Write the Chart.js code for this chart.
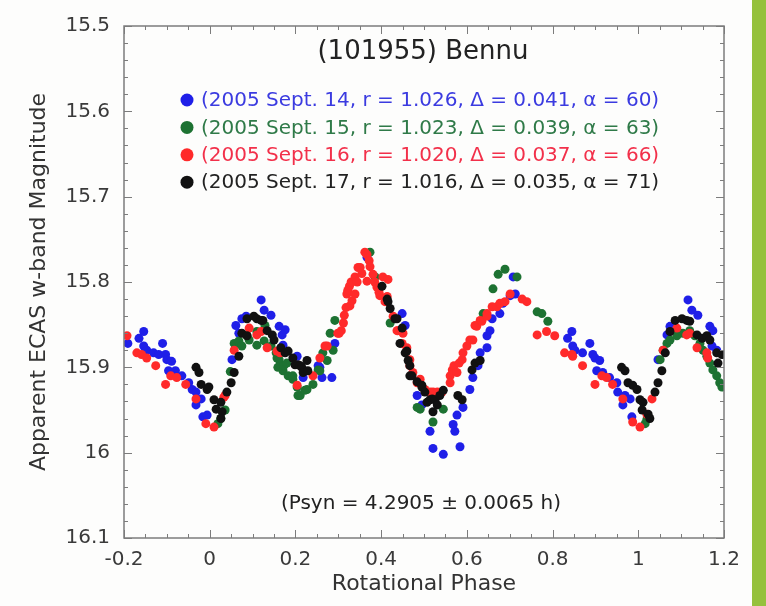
<!DOCTYPE html>
<html>
<head>
<meta charset="utf-8">
<script src="https://cdn.jsdelivr.net/npm/chart.js@4.4.0/dist/chart.umd.min.js"></script>
<style>
html, body { margin: 0; padding: 0; background: #fff; }
#wrap { position: relative; width: 766px; height: 606px; overflow: hidden; background: #fdfdfc; }
#lc { position: absolute; left: 0; top: 0; }
#bar { position: absolute; left: 752px; top: 0; width: 14px; height: 606px; background: #95c13c; }
</style>
</head>
<body>
<div id="wrap">
  <canvas id="lc" width="766" height="606"></canvas>
  <div id="bar"></div>
</div>
<script>
// lightcurve points, [rotational phase, magnitude]
var sept14 = [
  [-0.191,15.872],[-0.165,15.866],[-0.154,15.858],[-0.154,15.875],[-0.147,15.880],[-0.131,15.883],[-0.110,15.872],
  [-0.119,15.885],[-0.103,15.885],[-0.100,15.891],[-0.089,15.893],[-0.096,15.904],[-0.080,15.904],[-0.065,15.910],
  [-0.049,15.918],[-0.041,15.926],[-0.032,15.929],[-0.020,15.937],[-0.032,15.944],[-0.016,15.958],[-0.006,15.956],
  [0.052,15.891],[0.068,15.860],[0.061,15.851],[0.075,15.843],[0.085,15.840],[0.120,15.821],[0.127,15.833],
  [0.143,15.839],[0.162,15.852],[0.176,15.856],[0.169,15.862],[0.171,15.874],[0.204,15.887],[0.218,15.912],
  [0.253,15.898],[0.257,15.900],[0.262,15.912],[0.285,15.912],[0.292,15.872],
  [0.367,15.771],[0.449,15.837],[0.456,15.851],[0.484,15.933],[0.495,15.944],[0.514,15.975],[0.521,15.995],
  [0.545,16.002],[0.584,15.993],[0.572,15.975],[0.568,15.967],[0.577,15.956],[0.591,15.947],[0.607,15.926],
  [0.614,15.912],[0.626,15.898],[0.631,15.883],[0.647,15.877],[0.647,15.863],[0.654,15.857],[0.659,15.843],
  [0.677,15.837],[0.684,15.825],[0.701,15.816],[0.713,15.814],[0.708,15.794],
  [0.845,15.858],[0.835,15.866],[0.847,15.875],[0.852,15.880],[0.870,15.883],[0.887,15.872],[0.894,15.885],
  [0.899,15.889],[0.910,15.892],[0.903,15.904],[0.917,15.906],[0.933,15.912],[0.950,15.918],[0.952,15.929],
  [0.969,15.933],[0.981,15.937],[0.964,15.944],[0.985,15.958],
  [1.046,15.891],[1.067,15.862],[1.074,15.852],[1.116,15.821],[1.125,15.833],[1.139,15.839],[1.167,15.852],
  [1.174,15.857],[1.172,15.875],[1.183,15.880]
];
var sept15 = [
  [0.019,15.966],[0.026,15.960],[0.036,15.950],[0.048,15.905],[0.057,15.872],[0.064,15.872],[0.068,15.869],
  [0.075,15.875],[0.087,15.863],[0.092,15.868],[0.110,15.858],[0.110,15.874],[0.127,15.869],[0.129,15.851],
  [0.143,15.875],[0.155,15.883],[0.157,15.889],[0.162,15.891],[0.164,15.883],[0.159,15.900],[0.171,15.904],
  [0.173,15.898],[0.180,15.895],[0.183,15.910],[0.194,15.914],[0.194,15.910],[0.204,15.923],[0.206,15.933],
  [0.211,15.933],[0.222,15.927],[0.227,15.926],[0.241,15.920],[0.253,15.903],[0.257,15.904],[0.264,15.883],
  [0.274,15.892],[0.281,15.860],[0.288,15.880],[0.292,15.845],
  [0.374,15.765],[0.386,15.794],[0.421,15.848],[0.484,15.947],[0.491,15.949],[0.521,15.964],[0.545,15.949],
  [0.638,15.837],[0.661,15.808],[0.673,15.791],[0.689,15.785],[0.717,15.794],[0.764,15.835],[0.775,15.837],
  [0.789,15.846],
  [1.016,15.966],[1.020,15.961],[1.051,15.891],[1.058,15.880],[1.067,15.872],[1.074,15.868],[1.090,15.863],
  [1.104,15.860],[1.120,15.857],[1.132,15.863],[1.144,15.872],[1.151,15.880],[1.160,15.887],[1.167,15.895],
  [1.174,15.903],[1.183,15.910],[1.190,15.918],[1.195,15.923]
];
var sept16 = [
  [-0.193,15.863],[-0.170,15.883],[-0.159,15.885],[-0.147,15.889],[-0.126,15.898],[-0.103,15.920],[-0.091,15.910],
  [-0.077,15.912],[-0.056,15.920],[-0.032,15.937],[-0.009,15.966],[0.010,15.970],[0.033,15.935],[0.036,15.933],
  [0.057,15.880],[0.092,15.854],[0.110,15.862],[0.120,15.858],[0.134,15.877],[0.157,15.881],[0.164,15.883],
  [0.204,15.921],[0.241,15.910],[0.257,15.889],[0.269,15.875],[0.274,15.875],[0.299,15.860],[0.302,15.860],
  [0.307,15.857],[0.312,15.848],[0.314,15.839],[0.318,15.830],[0.320,15.814],[0.327,15.828],[0.332,15.822],
  [0.322,15.810],[0.326,15.805],[0.330,15.800],[0.339,15.794],[0.339,15.814],[0.346,15.783],[0.351,15.783],
  [0.355,15.790],[0.362,15.765],[0.367,15.768],[0.372,15.775],[0.374,15.782],[0.381,15.791],[0.367,15.799],
  [0.344,15.800],[0.385,15.800],[0.390,15.806],[0.395,15.812],[0.404,15.794],[0.416,15.797],[0.397,15.816],
  [0.409,15.823],[0.414,15.817],[0.428,15.840],[0.437,15.857],[0.439,15.857],[0.451,15.860],[0.449,15.872],
  [0.460,15.877],[0.467,15.891],[0.467,15.898],[0.474,15.906],[0.484,15.918],[0.491,15.914],[0.502,15.926],
  [0.514,15.929],[0.519,15.933],[0.521,15.929],[0.531,15.929],[0.542,15.929],[0.561,15.910],[0.561,15.918],
  [0.566,15.903],[0.570,15.898],[0.577,15.906],[0.582,15.895],[0.589,15.891],[0.591,15.883],[0.600,15.875],
  [0.607,15.868],[0.614,15.868],[0.619,15.851],[0.623,15.852],[0.631,15.845],[0.635,15.846],[0.647,15.837],
  [0.647,15.840],[0.659,15.829],[0.670,15.829],[0.677,15.825],[0.689,15.823],[0.701,15.814],[0.729,15.820],
  [0.740,15.823],[0.764,15.862],[0.786,15.858],[0.805,15.863],[0.828,15.883],[0.845,15.885],[0.847,15.887],
  [0.870,15.898],[0.899,15.920],[0.915,15.910],[0.926,15.912],[0.940,15.920],[0.964,15.937],[0.987,15.964],
  [1.004,15.970],[1.020,15.955],[1.032,15.937],[1.058,15.880],[1.090,15.854],[1.113,15.862],[1.120,15.860],
  [1.137,15.877],[1.160,15.883],[1.162,15.889]
];
var sept17 = [
  [-0.032,15.900],[-0.025,15.906],[-0.020,15.920],[-0.006,15.926],[-0.002,15.923],[0.010,15.938],[0.026,15.941],
  [0.015,15.949],[0.029,15.952],[0.026,15.960],[0.040,15.929],[0.050,15.918],[0.057,15.906],[0.068,15.887],
  [0.075,15.860],[0.087,15.843],[0.087,15.863],[0.103,15.840],[0.110,15.843],[0.120,15.845],[0.124,15.845],
  [0.134,15.857],[0.146,15.862],[0.150,15.868],[0.166,15.877],[0.176,15.883],[0.183,15.881],[0.194,15.889],
  [0.199,15.897],[0.206,15.897],[0.211,15.898],[0.215,15.900],[0.218,15.906],[0.227,15.892],[0.229,15.904],
  [0.402,15.805],[0.414,15.820],[0.416,15.823],[0.421,15.831],[0.432,15.843],[0.437,15.843],[0.449,15.854],
  [0.444,15.872],[0.456,15.883],[0.460,15.881],[0.463,15.892],[0.467,15.898],[0.467,15.910],[0.472,15.910],
  [0.484,15.917],[0.495,15.921],[0.495,15.923],[0.502,15.929],[0.507,15.941],[0.514,15.938],[0.519,15.937],
  [0.526,15.938],[0.531,15.944],[0.537,15.933],[0.545,15.927],[0.521,15.952],[0.579,15.933],[0.589,15.938],
  [0.612,15.903],[0.619,15.895],[0.631,15.892],
  [0.961,15.900],[0.969,15.904],[0.976,15.918],[0.987,15.921],[0.997,15.926],[1.004,15.938],[1.011,15.941],
  [1.009,15.950],[1.023,15.955],[1.027,15.960],[1.039,15.929],[1.046,15.918],[1.055,15.904],[1.063,15.883],
  [1.074,15.858],[1.086,15.845],[1.102,15.843],[1.113,15.845],[1.120,15.846],[1.137,15.862],[1.149,15.866],
  [1.160,15.863],[1.167,15.868],[1.183,15.883],[1.195,15.885],[1.186,15.895]
];

var seriesLabels = [
  '(2005 Sept. 14, r = 1.026, \u0394 = 0.041, \u03b1 = 60)',
  '(2005 Sept. 15, r = 1.023, \u0394 = 0.039, \u03b1 = 63)',
  '(2005 Sept. 16, r = 1.020, \u0394 = 0.037, \u03b1 = 66)',
  '(2005 Sept. 17, r = 1.016, \u0394 = 0.035, \u03b1 = 71)'
];
var seriesData = [sept14, sept15, sept16, sept17];
var dotColors = ['#1f1fe8', '#1d7232', '#ff2a2a', '#111111'];
var textColors = ['#3b3be0', '#2f7a48', '#f2304a', '#222222'];

var chartTitle = '(101955) Bennu';
var periodNote = '(Psyn = 4.2905 \u00b1 0.0065 h)';
var xTitle = 'Rotational Phase';
var yTitle = 'Apparent ECAS w-band Magnitude';

Chart.defaults.font.family = "'DejaVu Sans', sans-serif";

function fmtTick(v) {
    return parseFloat(Number(v).toFixed(1)).toString();
}

// frame, inward ticks, title, legend and the period note
var frameAndText = {
    id: 'frameAndText',
    afterDraw: function(chart) {
        var ctx = chart.ctx;
        var a = chart.chartArea;
        var xs = chart.scales.x, ys = chart.scales.y;
        ctx.save();
        ctx.strokeStyle = '#7c7c7c';
        ctx.lineWidth = 1;
        ctx.beginPath();
        for (var i = 0; i <= 28; i++) {
            var px = Math.round(xs.getPixelForValue(-0.2 + i * 0.05)) + 0.5;
            var len = (i % 4 == 0) ? 8 : 4;
            ctx.moveTo(px, a.bottom); ctx.lineTo(px, a.bottom - len);
            ctx.moveTo(px, a.top); ctx.lineTo(px, a.top + len);
        }
        for (var j = 0; j <= 30; j++) {
            var py = Math.round(ys.getPixelForValue(15.5 + j * 0.02)) + 0.5;
            var l2 = (j % 5 == 0) ? 8 : 4;
            ctx.moveTo(a.left, py); ctx.lineTo(a.left + l2, py);
            ctx.moveTo(a.right, py); ctx.lineTo(a.right - l2, py);
        }
        ctx.stroke();
        ctx.lineWidth = 1.5;
        ctx.strokeRect(a.left, a.top, a.right - a.left, a.bottom - a.top);

        ctx.textAlign = 'center';
        ctx.textBaseline = 'middle';
        ctx.fillStyle = '#222';
        ctx.font = "26px 'DejaVu Sans'";
        ctx.fillText(chartTitle, 423, 52);

        ctx.font = "20px 'DejaVu Sans'";
        ctx.textAlign = 'left';
        for (var k = 0; k < seriesLabels.length; k++) {
            var ry = 100 + k * 27.4;
            ctx.fillStyle = dotColors[k];
            ctx.beginPath();
            ctx.arc(187, ry, 6.5, 0, Math.PI * 2);
            ctx.fill();
            ctx.fillStyle = textColors[k];
            ctx.fillText(seriesLabels[k], 201, ry + 1);
        }

        ctx.textAlign = 'center';
        ctx.fillStyle = '#222';
        ctx.fillText(periodNote, 421, 504);
        ctx.restore();
    }
};

var datasets = seriesData.map(function(s, i) {
    return {
        label: seriesLabels[i],
        data: s.map(function(p) { return {x: p[0], y: p[1]}; }),
        backgroundColor: dotColors[i],
        borderWidth: 0,
        pointRadius: 4.5,
        order: 3 - i
    };
});

new Chart(document.getElementById('lc').getContext('2d'), {
    type: 'scatter',
    data: {datasets: datasets},
    options: {
        responsive: false,
        animation: false,
        devicePixelRatio: 1,
        layout: {padding: {left: 0, top: 18, right: 42, bottom: 0}},
        plugins: {legend: {display: false}, tooltip: {enabled: false}},
        scales: {
            x: {
                type: 'linear',
                min: -0.2, max: 1.2,
                grid: {display: false, drawTicks: false},
                border: {display: false},
                ticks: {stepSize: 0.2, autoSkip: false, padding: 10, color: '#3a3a3a',
                        font: {size: 20}, callback: fmtTick},
                title: {display: true, text: xTitle, color: '#333', font: {size: 22},
                        padding: {top: 0, bottom: 9}},
                afterFit: function(s) { s.height = 68; }
            },
            y: {
                type: 'linear',
                reverse: true,
                min: 15.5, max: 16.1,
                grid: {display: false, drawTicks: false},
                border: {display: false},
                ticks: {stepSize: 0.1, autoSkip: false, padding: 14, color: '#3a3a3a',
                        font: {size: 20}, callback: fmtTick},
                title: {display: true, text: yTitle, color: '#333', font: {size: 22},
                        padding: {top: 26, bottom: 0}},
                afterFit: function(s) { s.width = 124; }
            }
        }
    },
    plugins: [frameAndText]
});
</script>
</body>
</html>
